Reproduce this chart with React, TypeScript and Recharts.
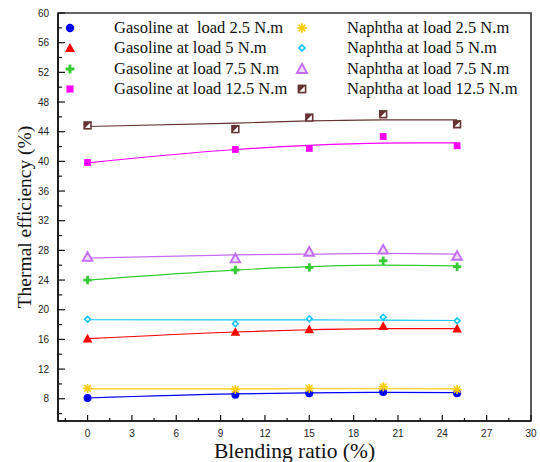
import React from "react";
import {
  ComposedChart,
  Line,
  XAxis,
  YAxis,
  ReferenceArea,
} from "recharts";

const blendRatios = [0, 10, 15, 20, 25];

const gasoline25 = [8.1, 8.55, 8.75, 8.9, 8.75];
const gasoline25Fit = [8.1, 8.65, 8.78, 8.85, 8.82];
const gasoline5 = [16.1, 17.0, 17.35, 17.8, 17.45];
const gasoline5Fit = [16.1, 17.0, 17.3, 17.45, 17.45];
const gasoline75 = [24.0, 25.35, 25.7, 26.6, 25.8];
const gasoline75Fit = [24.0, 25.35, 25.8, 26.0, 25.9];
const gasoline125 = [39.85, 41.6, 41.75, 43.35, 42.1];
const gasoline125Fit = [39.8, 41.6, 42.15, 42.45, 42.5];

const naphtha25 = [9.4, 9.25, 9.4, 9.6, 9.25];
const naphtha25Fit = [9.33, 9.33, 9.35, 9.35, 9.33];
const naphtha5 = [18.7, 18.1, 18.8, 19.0, 18.5];
const naphtha5Fit = [18.65, 18.62, 18.62, 18.6, 18.55];
const naphtha75 = [27.1, 26.9, 27.8, 28.1, 27.25];
const naphtha75Fit = [26.95, 27.4, 27.5, 27.6, 27.5];
const naphtha125 = [44.85, 44.35, 45.9, 46.35, 45.0];
const naphtha125Fit = [44.7, 45.15, 45.45, 45.6, 45.6];

const xTicks = [-1.5, 0, 1.5, 3, 4.5, 6, 7.5, 9, 10.5, 12, 13.5, 15, 16.5, 18, 19.5, 21, 22.5, 24, 25.5, 27, 28.5, 30];
const yTicks = [6, 8, 10, 12, 14, 16, 18, 20, 22, 24, 26, 28, 30, 32, 34, 36, 38, 40, 42, 44, 46, 48, 50, 52, 54, 56, 58, 60];

type Kind = "circle" | "triangle" | "plus" | "square" | "star" | "diamond" | "triHollow" | "squareHalf";

const series: { key: string; label: string; kind: Kind; color: string; values: number[]; fit: number[] }[] = [
  { key: "g25", label: "Gasoline at  load 2.5 N.m", kind: "circle", color: "#0000ff", values: gasoline25, fit: gasoline25Fit },
  { key: "g5", label: "Gasoline at load 5 N.m", kind: "triangle", color: "#ff0000", values: gasoline5, fit: gasoline5Fit },
  { key: "g75", label: "Gasoline at load 7.5 N.m", kind: "plus", color: "#33cc33", values: gasoline75, fit: gasoline75Fit },
  { key: "g125", label: "Gasoline at load 12.5 N.m", kind: "square", color: "#ff00ff", values: gasoline125, fit: gasoline125Fit },
  { key: "n25", label: "Naphtha at load 2.5 N.m", kind: "star", color: "#ffcc00", values: naphtha25, fit: naphtha25Fit },
  { key: "n5", label: "Naphtha at load 5 N.m", kind: "diamond", color: "#11c4f2", values: naphtha5, fit: naphtha5Fit },
  { key: "n75", label: "Naphtha at load 7.5 N.m", kind: "triHollow", color: "#c46cf7", values: naphtha75, fit: naphtha75Fit },
  { key: "n125", label: "Naphtha at load 12.5 N.m", kind: "squareHalf", color: "#663333", values: naphtha125, fit: naphtha125Fit },
];

const data = blendRatios.map((x, i) => {
  const row: Record<string, number> = { x };
  series.forEach((s) => {
    row[s.key] = s.values[i];
    row[s.key + "Fit"] = s.fit[i];
  });
  return row;
});

function marker(kind: Kind, color: string, cx: number, cy: number, k = 1) {
  switch (kind) {
    case "circle":
      return <circle cx={cx} cy={cy} r={4 * k} fill={color} />;
    case "triangle": {
      const h = 4.8 * k;
      return <polygon points={`${cx},${cy - h} ${cx + h},${cy + h * 0.8} ${cx - h},${cy + h * 0.8}`} fill={color} />;
    }
    case "plus": {
      const l = 4.2 * k;
      const t = 1.4 * k;
      return (
        <g fill={color}>
          <rect x={cx - l} y={cy - t} width={2 * l} height={2 * t} />
          <rect x={cx - t} y={cy - l} width={2 * t} height={2 * l} />
        </g>
      );
    }
    case "square": {
      const s = 3.4 * k;
      return <rect x={cx - s} y={cy - s} width={2 * s} height={2 * s} fill={color} />;
    }
    case "star": {
      const l = 4.5 * k;
      const d = l * 0.72;
      return (
        <g stroke={color} strokeWidth={1.7}>
          <line x1={cx - l} y1={cy} x2={cx + l} y2={cy} />
          <line x1={cx} y1={cy - l} x2={cx} y2={cy + l} />
          <line x1={cx - d} y1={cy - d} x2={cx + d} y2={cy + d} />
          <line x1={cx - d} y1={cy + d} x2={cx + d} y2={cy - d} />
        </g>
      );
    }
    case "diamond": {
      const s = 4 * k;
      return (
        <g>
          <polygon points={`${cx},${cy - s} ${cx + s},${cy} ${cx},${cy + s} ${cx - s},${cy}`} fill={color} />
          <circle cx={cx} cy={cy} r={1.4 * k} fill="#fff" />
        </g>
      );
    }
    case "triHollow": {
      const h = 4.8 * k;
      return (
        <polygon
          points={`${cx},${cy - h} ${cx + h},${cy + h * 0.8} ${cx - h},${cy + h * 0.8}`}
          fill="#f0dcff"
          stroke={color}
          strokeWidth={1.9}
        />
      );
    }
    case "squareHalf": {
      const s = 4.2 * k;
      const m = 1.6 * k;
      return (
        <g>
          <rect x={cx - s} y={cy - s} width={2 * s} height={2 * s} fill={color} />
          <polygon
            points={`${cx - s + m},${cy + s - m} ${cx + s - m},${cy + s - m} ${cx + s - m},${cy - s + m}`}
            fill="#fff"
          />
        </g>
      );
    }
  }
}

const XTick = (props: any) => {
  const { x, y, payload } = props;
  const v = payload.value as number;
  const major = Math.abs(v % 3) < 1e-6;
  return (
    <g>
      <line x1={x} y1={y} x2={x} y2={y - (major ? 6 : 3)} stroke="#111" strokeWidth={1.2} />
      {major && v >= 0 && (
        <text x={x} y={y + 16} textAnchor="middle" fontSize={10} fontFamily="Liberation Sans, Arial" fill="#222">
          {v}
        </text>
      )}
    </g>
  );
};

const YTick = (props: any) => {
  const { x, y, payload } = props;
  const v = payload.value as number;
  const major = v % 4 === 0;
  return (
    <g>
      <line x1={x} y1={y} x2={x + (major ? 7 : 4)} y2={y} stroke="#111" strokeWidth={1.2} />
      {major && (
        <text x={x - 9} y={y + 3.5} textAnchor="end" fontSize={10} fontFamily="Liberation Sans, Arial" fill="#222">
          {v}
        </text>
      )}
    </g>
  );
};

const legendRows = [28, 48, 69, 89];

export default function App() {
  return (
    <div style={{ position: "absolute", left: 0, top: 0, width: 540, height: 462, background: "#fff" }}>
      <ComposedChart width={540} height={462} data={data} margin={{ top: 13, right: 9, left: 0, bottom: 0 }}>
        <XAxis
          dataKey="x"
          type="number"
          domain={[-2, 30]}
          ticks={xTicks}
          interval={0}
          tickSize={0}
          tickMargin={0}
          tick={<XTick />}
          axisLine={{ stroke: "#111", strokeWidth: 1.6 }}
          height={41}
          allowDataOverflow
          label={{
            value: "Blending ratio (%)",
            position: "insideBottom",
            offset: 4,
            style: { fontFamily: "Liberation Serif, Times New Roman", fontSize: 21.5, fill: "#111" },
          }}
        />
        <YAxis
          type="number"
          domain={[5, 60]}
          ticks={yTicks}
          interval={0}
          tickSize={0}
          tickMargin={0}
          tick={<YTick />}
          axisLine={{ stroke: "#111", strokeWidth: 1.6 }}
          width={58}
          allowDataOverflow
          label={{
            value: "Thermal efficiency (%)",
            angle: -90,
            position: "insideLeft",
            offset: 24,
            style: { fontFamily: "Liberation Serif, Times New Roman", fontSize: 19.5, fill: "#111", textAnchor: "middle" },
          }}
        />
        <ReferenceArea x1={-2} x2={30} y1={5} y2={60} fill="none" stroke="#333" strokeWidth={1.6} />
        {series.map((s) => (
          <Line
            key={s.key + "Fit"}
            type="monotone"
            dataKey={s.key + "Fit"}
            stroke={s.color}
            strokeWidth={1.2}
            dot={false}
            activeDot={false}
            isAnimationActive={false}
          />
        ))}
        {series.map((s) => (
          <Line
            key={s.key}
            dataKey={s.key}
            stroke="none"
            dot={(p: any) => <g key={s.key + p.index}>{marker(s.kind, s.color, p.cx, p.cy)}</g>}
            activeDot={false}
            isAnimationActive={false}
          />
        ))}
      </ComposedChart>
      {series.map((s, i) => {
        const col = i < 4 ? 0 : 1;
        const row = i % 4;
        const mx = col === 0 ? 70 : 302;
        const tx = col === 0 ? 114 : 347;
        const cy = legendRows[row];
        return (
          <div key={s.key}>
            <svg style={{ position: "absolute", left: mx - 7, top: cy - 7 }} width={14} height={14}>
              {marker(s.kind, s.color, 7, 7, 1.05)}
            </svg>
            <div
              style={{
                position: "absolute",
                left: tx,
                top: cy - 11,
                fontFamily: "Liberation Serif, Times New Roman",
                fontSize: 16.5,
                lineHeight: "22px",
                color: "#111",
                whiteSpace: "pre",
              }}
            >
              {s.label}
            </div>
          </div>
        );
      })}
    </div>
  );
}
